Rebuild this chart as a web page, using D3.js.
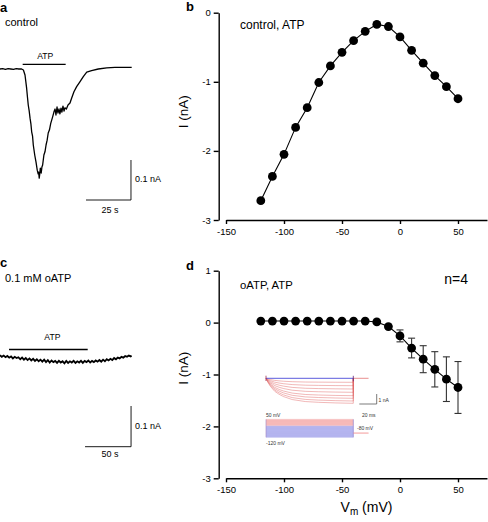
<!DOCTYPE html>
<html><head><meta charset="utf-8">
<script src="https://cdn.jsdelivr.net/npm/d3@7"></script>
<style>body{margin:0;background:#fff}svg{display:block}text{font-family:"Liberation Sans",Arial,sans-serif}</style>
</head><body><svg id="c" width="488" height="522"></svg>
<script>
// ---------- data ----------
const voltages = [-120,-110,-100,-90,-80,-70,-60,-50,-40,-30,-20,-10,0,10,20,30,40,50];
const currentControl = [-2.72,-2.37,-2.05,-1.66,-1.375,-1.01,-0.77,-0.574,-0.405,-0.27,-0.17,-0.2,-0.35,-0.545,-0.73,-0.91,-1.07,-1.245];
const currentOATP = [0.03,0.03,0.03,0.03,0.03,0.03,0.03,0.03,0.03,0.03,0.013,-0.077,-0.256,-0.49,-0.705,-0.90,-1.09,-1.25];
const semOATP = [0,0,0,0,0,0,0,0,0,0,0,0.03,0.115,0.19,0.26,0.34,0.43,0.50];
const xTicks = [-150,-100,-50,0,50];
const yTicksB = [-3,-2,-1,0];
const yTicksD = [-3,-2,-1,0,1];

const traceATime = [0,1.5,3,4.5,6,7.5,9,10.5,12,13,13.9,14.8,15.3,15.7,16.2,16.7,17.2,17.6,18.1,18.5,19.3,20,20.7,21.2,21.5,21.8,22.1,22.4,22.9,23.3,23.7,24.4,25,25.6,26.2,26.8,27.5,28.2,29.3,30,30.6,31.1,31.7,32.2,32.8,33.3,33.9,34.4,35,35.6,36.1,36.9,37.8,38.9,39.8,41.1,42.6,44.4,46.3,48.2,50.9,54.6,59.3,63.9,68,73.2];
const traceACurrent = [0,0.001,-0.001,0.001,0,-0.001,0.001,0,0,-0.0025,-0.015,-0.048,-0.072,-0.09,-0.104,-0.123,-0.138,-0.157,-0.168,-0.19,-0.215,-0.232,-0.253,-0.262,-0.258,-0.273,-0.262,-0.248,-0.26,-0.245,-0.24,-0.215,-0.207,-0.19,-0.178,-0.16,-0.152,-0.136,-0.119,-0.107,-0.1,-0.115,-0.095,-0.11,-0.1,-0.112,-0.098,-0.108,-0.093,-0.105,-0.097,-0.1,-0.09,-0.085,-0.073,-0.057,-0.044,-0.032,-0.019,-0.008,-0.004,0,0.003,0.004,0.004,0.004];

const traceCTime = [0,2,4,6,8,10,12,14,16,18,20,22,24,26,28,30,32,34,36,38,40,42,44,46,48,50,52,54,56,58,60,62,64,66,68,70,72,74,76,78,80,82,84,86,88,90,92,94,96,98,100,102,104,106,108,110,112,114,116,118,120,122,124,126,128,130,132,134,136,138,140,142,143];
const traceCCurrent = [0.002,-0.002,0.001,-0.003,0.000,-0.004,-0.001,-0.006,-0.002,-0.005,-0.003,-0.008,-0.004,-0.009,-0.005,-0.010,-0.006,-0.011,-0.007,-0.012,-0.008,-0.013,-0.009,-0.014,-0.009,-0.015,-0.010,-0.016,-0.011,-0.015,-0.012,-0.017,-0.012,-0.016,-0.013,-0.018,-0.012,-0.017,-0.013,-0.016,-0.012,-0.017,-0.013,-0.016,-0.012,-0.017,-0.012,-0.015,-0.011,-0.016,-0.012,-0.015,-0.011,-0.014,-0.010,-0.014,-0.009,-0.013,-0.008,-0.011,-0.007,-0.010,-0.005,-0.008,-0.004,-0.006,-0.002,-0.004,0.000,-0.002,0.001,-0.001,0.001];

const insetTime = [0,2,5,10,15,20,30,45,60,80,100];
const insetShape = [0,0.15,0.32,0.52,0.64,0.73,0.85,0.93,0.96,0.985,1];
const insetPlateau = [-0.4,-0.74,-1.07,-1.4,-1.74,-2.0,-2.27,-2.5];
const stepLevels = [50,40,30,20,10,0,-10,-20,-30,-40,-50,-60,-70,-80,-90,-100,-110,-120];

// ---------- drawing ----------
const svg = d3.select("#c");
const F = '"Liberation Sans",Arial,sans-serif';
function txt(x,y,s,size,opts={}){
  const t = svg.append("text").attr("x",x).attr("y",y).attr("font-size",size).attr("font-family",F)
    .attr("fill",opts.fill||"#000").text(s);
  if(opts.anchor) t.attr("text-anchor",opts.anchor);
  if(opts.bold) t.attr("font-weight","bold");
  return t;
}

// Panel labels
txt(0,12,"a",13,{bold:true});
txt(5,26,"control",11);
txt(186,11,"b",13,{bold:true});
txt(240,28.5,"control, ATP",12);
txt(0,267,"c",13,{bold:true});
txt(5,282,"0.1 mM oATP",11);
txt(186,269.5,"d",13,{bold:true});
txt(240,288.5,"oATP, ATP",11.3);
txt(468,283.5,"n=4",14,{anchor:"end"});

// ---- panel a trace ----
const xA = d3.scaleLinear().domain([0,73.2]).range([0,131.7]);
const yA = d3.scaleLinear().domain([0,-0.275]).range([69,179]);
svg.append("path").attr("d", d3.line()(traceATime.map((t,i)=>[xA(t), yA(traceACurrent[i])])))
  .attr("fill","none").attr("stroke","#000").attr("stroke-width",1.3).attr("stroke-linejoin","round");
svg.append("line").attr("x1",xA(12.6)).attr("x2",xA(36.5)).attr("y1",64.3).attr("y2",64.3).attr("stroke","#000").attr("stroke-width",1.3);
txt((xA(12.6)+xA(36.5))/2+1,58.5,"ATP",8.6,{anchor:"middle"});
svg.append("path").attr("d",`M${xA(47.8)},200H${xA(72.8)}V${yA(-0.2275)}`).attr("fill","none").attr("stroke","#000").attr("stroke-width",0.9);
txt(135,181.5,"0.1 nA",9);
txt(110,212.5,"25 s",9,{anchor:"middle"});

// ---- panel c trace ----
const xC = d3.scaleLinear().domain([0,143]).range([0,131.6]);
const yC = d3.scaleLinear().domain([0,-0.1]).range([356,396.7]);
svg.append("path").attr("d", d3.line()(traceCTime.map((t,i)=>[xC(t), yC(traceCCurrent[i])])))
  .attr("fill","none").attr("stroke","#000").attr("stroke-width",1.8).attr("stroke-linejoin","miter");
svg.append("line").attr("x1",xC(9.8)).attr("x2",xC(95.3)).attr("y1",349.5).attr("y2",349.5).attr("stroke","#000").attr("stroke-width",1.3);
txt((xC(9.8)+xC(95.3))/2+4,340,"ATP",8.6,{anchor:"middle"});
svg.append("path").attr("d",`M${xC(92.4)},446.7H${xC(142.4)}V406`).attr("fill","none").attr("stroke","#000").attr("stroke-width",0.9);
txt(135,428.5,"0.1 nA",9);
txt(110,457,"50 s",9,{anchor:"middle"});

// ---- IV panels ----
const xB = d3.scaleLinear().domain([-150,75]).range([226,487]);
const yB = d3.scaleLinear().domain([-3,0]).range([220,12.7]);
const xD = d3.scaleLinear().domain([-150,75]).range([226,487]);
const yD = d3.scaleLinear().domain([-3,1]).range([478.3,270.7]);

function axes(x,y,yTicks,xAxisY,yAxisX){
  const gx = svg.append("g").attr("transform",`translate(0,${xAxisY})`)
    .call(d3.axisBottom(x).tickValues(xTicks).tickSize(4).tickSizeOuter(0).tickPadding(4).tickFormat(d=>String(d)));
  const gy = svg.append("g").attr("transform",`translate(${yAxisX},0)`)
    .call(d3.axisLeft(y).tickValues(yTicks).tickSize(5).tickSizeOuter(0).tickPadding(3).tickFormat(d=>String(d)));
  [gx,gy].forEach(g=>{
    g.select(".domain").attr("stroke-width",1.4);
    g.selectAll(".tick line").attr("stroke-width",1.4);
    g.selectAll("text").attr("font-size",9.5).attr("font-family",F).attr("fill","#000");
  });
}
axes(xB,yB,yTicksB,220,218.7);
axes(xD,yD,yTicksD,478.3,218.7);

function series(x,y,vals,sem){
  if(sem){
    const g = svg.append("g").attr("stroke","#333").attr("stroke-width",1.1);
    voltages.forEach((v,i)=>{
      if(!sem[i]) return;
      const cx = x(v), y1 = y(vals[i]+sem[i]), y2 = y(vals[i]-sem[i]);
      g.append("line").attr("x1",cx).attr("x2",cx).attr("y1",y1).attr("y2",y2);
      g.append("line").attr("x1",cx-3.5).attr("x2",cx+3.5).attr("y1",y1).attr("y2",y1);
      g.append("line").attr("x1",cx-3.5).attr("x2",cx+3.5).attr("y1",y2).attr("y2",y2);
    });
  }
  svg.append("path").attr("d", d3.line().x((d,i)=>x(voltages[i])).y(d=>y(d))(vals))
    .attr("fill","none").attr("stroke","#000").attr("stroke-width",1.1);
  svg.append("g").selectAll("circle").data(vals).join("circle")
    .attr("cx",(d,i)=>x(voltages[i])).attr("cy",d=>y(d)).attr("r",4.4).attr("fill","#000");
}
series(xB,yB,currentControl,null);
series(xD,yD,currentOATP,semOATP);

// axis titles
txt(0,0,"I (nA)",13.5,{anchor:"middle"}).attr("transform","translate(188,111.7) rotate(-90)");
txt(0,0,"I (nA)",13.5,{anchor:"middle"}).attr("transform","translate(188,368.3) rotate(-90)");
const vt = svg.append("text").attr("x",366.5).attr("y",511.5).attr("text-anchor","middle").attr("font-size",14).attr("font-family",F);
vt.append("tspan").text("V");
vt.append("tspan").attr("font-size",10).attr("dy",3).text("m");
vt.append("tspan").attr("dy",-3).text(" (mV)");

// ---- inset ----
const xI = d3.scaleLinear().domain([0,100]).range([266,353.3]);
const yI = d3.scaleLinear().domain([0,-2.5]).range([378.3,403.3]);
const yV = d3.scaleLinear().domain([-120,50]).range([437.3,419.3]);
const ins = svg.append("g");
insetPlateau.forEach(p=>{
  const pts = insetTime.map((t,k)=>[xI(t), yI(p*insetShape[k])]);
  pts.push([xI(100), yI(0)]);
  ins.append("path").attr("d",d3.line()(pts)).attr("fill","none").attr("stroke","#e06060").attr("stroke-opacity",0.75).attr("stroke-width",0.6);
});
ins.append("line").attr("x1",xI(100)).attr("x2",xI(117.5)).attr("y1",yI(0)).attr("y2",yI(0)).attr("stroke","#e06060").attr("stroke-width",0.7);
ins.append("line").attr("x1",xI(0)).attr("x2",xI(100)).attr("y1",yI(0)).attr("y2",yI(0)).attr("stroke","#4848d8").attr("stroke-width",0.9);
ins.append("line").attr("x1",xI(0)).attr("x2",xI(0)).attr("y1",375.7).attr("y2",381).attr("stroke","#a03050").attr("stroke-width",0.8);
ins.append("line").attr("x1",xI(100)).attr("x2",xI(100)).attr("y1",yI(0.25)).attr("y2",yI(-0.3)).attr("stroke","#602070").attr("stroke-width",0.8);
ins.append("path").attr("d",`M359.3,404H376.7V394`).attr("fill","none").attr("stroke","#444").attr("stroke-width",0.7);
ins.append("text").attr("x",378.5).attr("y",401.5).attr("font-size",5).attr("font-family",F).attr("fill","#333").text("1 nA");
ins.append("text").attr("x",362).attr("y",416.5).attr("font-size",5).attr("font-family",F).attr("fill","#333").text("20 ms");
ins.append("rect").attr("x",xI(0)).attr("width",xI(100)-xI(0)).attr("y",yV(50)).attr("height",yV(-10)-yV(50)).attr("fill","#f8c6c6");
ins.append("rect").attr("x",xI(0)).attr("width",xI(100)-xI(0)).attr("y",yV(-10)).attr("height",yV(-120)-yV(-10)).attr("fill","#c9c9f5");
stepLevels.forEach(v=>{
  ins.append("line").attr("x1",xI(0)).attr("x2",xI(100)).attr("y1",yV(v)).attr("y2",yV(v))
    .attr("stroke", v>=-10 ? "#f09c9c" : "#7c7ce0").attr("stroke-width",0.5).attr("stroke-opacity",0.6);
});
ins.append("line").attr("x1",xI(0)).attr("x2",xI(0)).attr("y1",yV(50)).attr("y2",yV(-120)).attr("stroke","#a080c0").attr("stroke-width",0.6);
ins.append("line").attr("x1",xI(100)).attr("x2",xI(100)).attr("y1",yV(50)).attr("y2",yV(-120)).attr("stroke","#8070c8").attr("stroke-width",0.6);
ins.append("line").attr("x1",xI(100)).attr("x2",xI(117.5)).attr("y1",yV(-80)).attr("y2",yV(-80)).attr("stroke","#f08080").attr("stroke-width",0.8);
ins.append("text").attr("x",266).attr("y",416.5).attr("font-size",5).attr("font-family",F).attr("fill","#333").text("50 mV");
ins.append("text").attr("x",357).attr("y",429.5).attr("font-size",5).attr("font-family",F).attr("fill","#333").text("-80 mV");
ins.append("text").attr("x",266).attr("y",444.5).attr("font-size",5).attr("font-family",F).attr("fill","#333").text("-120 mV");
</script></body></html>
